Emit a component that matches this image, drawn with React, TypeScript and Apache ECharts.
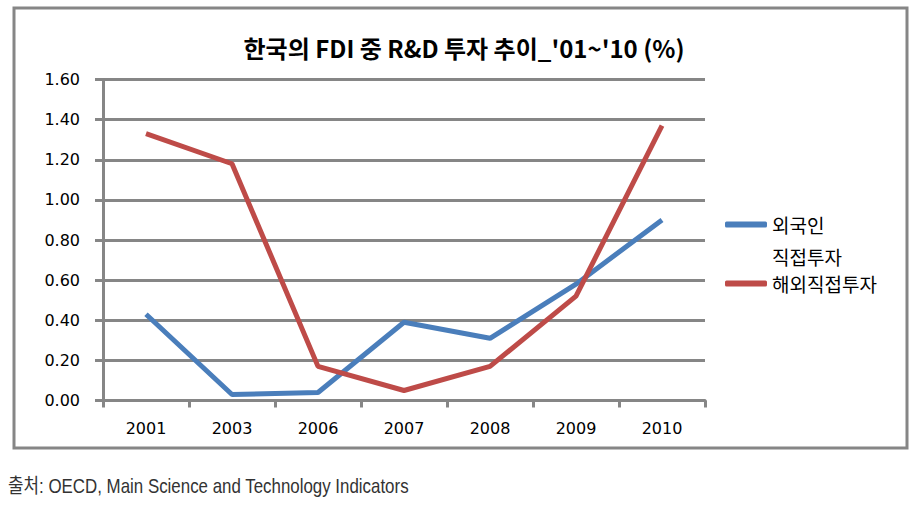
import React, { useEffect, useRef } from "react";
import * as echarts from "echarts";

const categories = ["2001", "2003", "2006", "2007", "2008", "2009", "2010"];
const inwardFDI = [0.43, 0.03, 0.04, 0.39, 0.31, 0.58, 0.9];
const outwardFDI = [1.33, 1.18, 0.17, 0.05, 0.17, 0.52, 1.37];
const seriesNames = ["외국인 직접투자", "해외직접투자"];
const titleText = "한국의 FDI 중 R&D 투자 추이_'01~'10 (%)";
const sourceText = "출처: OECD, Main Science and Technology Indicators";

const GRAY = "#868686";
const KR = "'Noto Sans CJK KR', 'Noto Sans', sans-serif";

export default function App() {
  const ref = useRef<HTMLDivElement>(null);
  useEffect(() => {
    if (!ref.current) return;
    const chart = echarts.init(ref.current, null, { renderer: "svg" });
    chart.setOption({
      animation: false,
      backgroundColor: "#ffffff",
      grid: { left: 103, right: 213, top: 79.5, bottom: 105.5, containLabel: false },
      xAxis: {
        type: "category",
        data: categories,
        boundaryGap: true,
        axisLine: { lineStyle: { color: GRAY, width: 3 } },
        axisTick: { show: true, length: 7, lineStyle: { color: GRAY, width: 3 } },
        axisLabel: { color: "#000", fontSize: 16, fontFamily: "'DejaVu Sans', sans-serif", margin: 20 },
      },
      yAxis: {
        type: "value",
        min: 0,
        max: 1.6,
        interval: 0.2,
        axisLine: { show: true, lineStyle: { color: GRAY, width: 3 } },
        axisTick: { show: true, length: 8, lineStyle: { color: GRAY, width: 3 } },
        splitLine: { lineStyle: { color: GRAY, width: 3 } },
        axisLabel: {
          color: "#000",
          fontSize: 16,
          fontFamily: "'DejaVu Sans', sans-serif",
          margin: 23,
          formatter: (v: number) => v.toFixed(2),
        },
      },
      legend: {
        orient: "vertical",
        left: 725,
        top: 215,
        padding: 0,
        itemWidth: 42,
        itemHeight: 6,
        itemGap: 40,
        icon: "roundRect",
        textStyle: { fontSize: 19, lineHeight: 18, color: "#000", fontFamily: KR },
        formatter: (name: string) => (name === seriesNames[0] ? "외국인" : name),
        data: seriesNames,
      },
      series: [
        {
          name: seriesNames[0],
          type: "line",
          data: inwardFDI,
          showSymbol: false,
          symbol: "none",
          lineStyle: { color: "#4A7EBB", width: 5 },
          itemStyle: { color: "#4A7EBB" },
        },
        {
          name: seriesNames[1],
          type: "line",
          data: outwardFDI,
          showSymbol: false,
          symbol: "none",
          lineStyle: { color: "#BE4B48", width: 5 },
          itemStyle: { color: "#BE4B48" },
        },
      ],
      graphic: [
        {
          type: "rect",
          shape: { x: 14, y: 8, width: 893, height: 440 },
          style: { fill: "none", stroke: GRAY, lineWidth: 3 },
          z: -1,
        },
        {
          type: "text",
          x: 464,
          y: 47,
          style: {
            text: titleText,
            fontSize: 24,
            fontWeight: "bold",
            fontFamily: KR,
            fill: "#000",
            align: "center",
            verticalAlign: "middle",
          },
        },
        {
          type: "text",
          x: 772,
          y: 256,
          style: {
            text: "직접투자",
            fontSize: 19,
            lineHeight: 18,
            fontFamily: KR,
            fill: "#000",
            align: "left",
            verticalAlign: "middle",
          },
        },
        {
          type: "text",
          x: 8,
          y: 486,
          scaleX: 0.845,
          style: {
            text: sourceText,
            fontSize: 20,
            fontFamily: "'Liberation Sans', 'Noto Sans CJK KR', sans-serif",
            fill: "#333",
            align: "left",
            verticalAlign: "middle",
          },
        },
      ],
    });
    return () => chart.dispose();
  }, []);
  return (
    <div
      ref={ref}
      style={{ position: "absolute", left: 0, top: 0, width: 918, height: 506 }}
    />
  );
}
